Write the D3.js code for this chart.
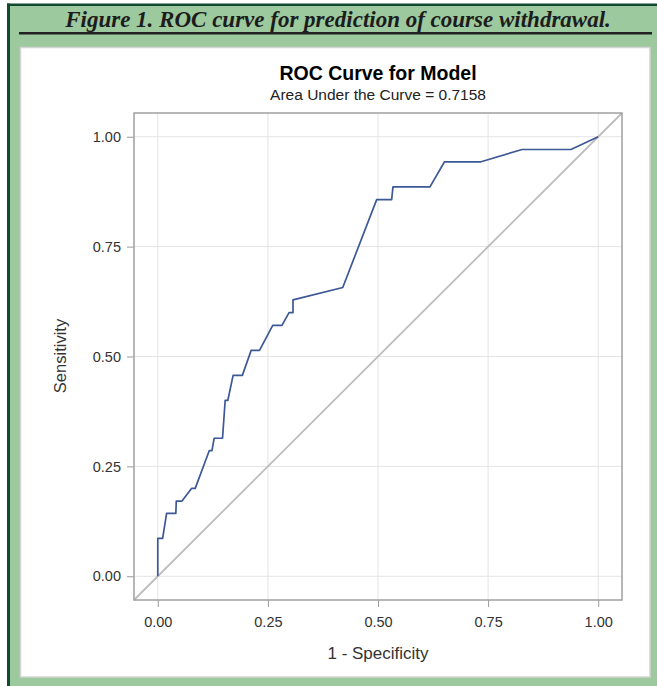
<!DOCTYPE html>
<html><head><meta charset="utf-8">
<script src="https://cdn.jsdelivr.net/npm/d3@7"></script>
<style>body{margin:0;background:#fff}svg{display:block}</style>
</head><body>
<script>
// Data
const fpr = [0,0,0.011,0.020,0.041,0.042,0.055,0.077,0.085,0.117,0.123,0.128,0.147,0.153,0.159,0.171,0.192,0.212,0.231,0.261,0.282,0.298,0.307,0.307,0.420,0.497,0.531,0.534,0.618,0.651,0.734,0.827,0.938,1.0];
const sens = [0,0.086,0.086,0.143,0.143,0.171,0.171,0.200,0.200,0.286,0.286,0.314,0.314,0.400,0.400,0.457,0.457,0.514,0.514,0.571,0.571,0.600,0.600,0.629,0.657,0.857,0.857,0.886,0.886,0.943,0.943,0.971,0.971,1.0];
const ticks = [0, 0.25, 0.5, 0.75, 1.0];
const tickLabels = ["0.00","0.25","0.50","0.75","1.00"];
const figTitle = "Figure 1. ROC curve for prediction of course withdrawal.";
const chartTitle = "ROC Curve for Model";
const subTitle = "Area Under the Curve = 0.7158";
const xLabel = "1 - Specificity";
const yLabel = "Sensitivity";

const W = 657, H = 686;
const svg = d3.select("body").append("svg").attr("width", W).attr("height", H);

// frame
svg.append("rect").attr("x",7).attr("y",4).attr("width",W-7).attr("height",H-4).attr("fill","#9dc99e");
svg.append("rect").attr("x",7).attr("y",3.5).attr("width",W-7).attr("height",2.5).attr("fill","#114a30");
svg.append("rect").attr("x",7).attr("y",3.5).attr("width",3).attr("height",H).attr("fill","#114a30");
svg.append("text").attr("x",338).attr("y",27).attr("text-anchor","middle")
  .attr("font-family","Liberation Serif, serif").attr("font-weight","bold").attr("font-style","italic")
  .attr("font-size",23).attr("fill","#1c1c1c").text(figTitle);
svg.append("rect").attr("x",19).attr("y",32).attr("width",633).attr("height",2.5).attr("fill","#222");
svg.append("rect").attr("x",20.5).attr("y",47.5).attr("width",629.5).attr("height",629.5)
  .attr("fill","#fff").attr("stroke","#d4d4d4").attr("stroke-width",1.5);

const L=134, R=622, T=113, B=600;
const x = d3.scaleLinear().domain([-0.054,1.054]).range([L,R]);
const y = d3.scaleLinear().domain([-0.054,1.054]).range([B,T]);

const g = svg.append("g");
// gridlines
g.selectAll(".gx").data(ticks).join("line").attr("x1",d=>x(d)).attr("x2",d=>x(d)).attr("y1",T).attr("y2",B)
  .attr("stroke","#e4e4e4").attr("stroke-width",1);
g.selectAll(".gy").data(ticks).join("line").attr("y1",d=>y(d)).attr("y2",d=>y(d)).attr("x1",L).attr("x2",R)
  .attr("stroke","#e4e4e4").attr("stroke-width",1);

// diagonal
g.append("line").attr("x1",x(-0.054)).attr("y1",y(-0.054)).attr("x2",x(1.054)).attr("y2",y(1.054))
  .attr("stroke","#bdbdbd").attr("stroke-width",1.8);

// curve
const pts = fpr.map((f,i)=>[f,sens[i]]);
g.append("path").attr("d", d3.line().x(d=>x(d[0])).y(d=>y(d[1]))(pts))
  .attr("fill","none").attr("stroke","#3d5896").attr("stroke-width",1.7).attr("stroke-linejoin","round");

// axes
const fmt = d => tickLabels[ticks.indexOf(d)];
const xa = svg.append("g").attr("transform",`translate(0,${B})`)
  .call(d3.axisBottom(x).tickValues(ticks).tickFormat(fmt).tickSize(7).tickPadding(10));
const ya = svg.append("g").attr("transform",`translate(${L},0)`)
  .call(d3.axisLeft(y).tickValues(ticks).tickFormat(fmt).tickSize(7).tickPadding(6));
[xa,ya].forEach(a=>{
  a.select(".domain").remove();
  a.selectAll(".tick line").attr("stroke","#9a9a9a");
  a.selectAll(".tick text").attr("font-family","Liberation Sans, Arial, sans-serif").attr("font-size",14.5).attr("fill","#333");
});
// plot border
svg.append("rect").attr("x",L).attr("y",T).attr("width",R-L).attr("height",B-T)
  .attr("fill","none").attr("stroke","#a0a0a0").attr("stroke-width",1.5);

// titles
svg.append("text").attr("x",378).attr("y",80).attr("text-anchor","middle")
  .attr("font-family","Liberation Sans, Arial, sans-serif").attr("font-weight","bold").attr("font-size",19.5).attr("fill","#000").text(chartTitle);
svg.append("text").attr("x",378).attr("y",100).attr("text-anchor","middle")
  .attr("font-family","Liberation Sans, Arial, sans-serif").attr("font-size",15.5).attr("fill","#222").text(subTitle);
svg.append("text").attr("x",378).attr("y",659).attr("text-anchor","middle")
  .attr("font-family","Liberation Sans, Arial, sans-serif").attr("font-size",17).attr("fill","#333").text(xLabel);
svg.append("text").attr("transform",`translate(66,356) rotate(-90)`).attr("text-anchor","middle")
  .attr("font-family","Liberation Sans, Arial, sans-serif").attr("font-size",16.5).attr("fill","#333").text(yLabel);
</script>
</body></html>
